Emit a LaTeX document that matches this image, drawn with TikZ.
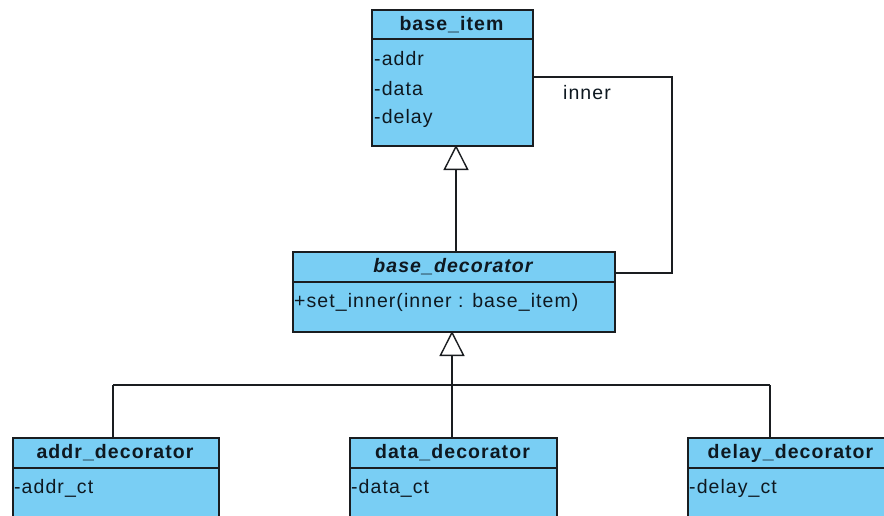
\documentclass[tikz,border=0pt]{standalone}
\usepackage{fontspec}
\setmainfont{Liberation Sans}[LetterSpace=5.5]
\usetikzlibrary{arrows.meta}
\definecolor{clsfill}{HTML}{79CEF4}
\definecolor{clsline}{HTML}{1A1D20}
\definecolor{txt}{HTML}{0E1820}
\tikzset{
  cls/.style={draw=clsline, fill=clsfill, line width=1.6pt, inner sep=0pt, anchor=north west},
  sep/.style={draw=clsline, line width=1.6pt},
  hdr/.style={font=\fontsize{19.5}{21}\selectfont\bfseries, text=txt, inner sep=0pt},
  hdri/.style={font=\fontsize{19.5}{21}\selectfont\bfseries\itshape, text=txt, inner sep=0pt},
  attr/.style={font=\fontsize{19.5}{21}\selectfont, text=txt, inner sep=0pt, anchor=west},
  conn/.style={draw=clsline, line width=1.4pt},
  gen/.style={conn, -{Triangle[open, width=25pt, length=25pt, line width=1.4pt, fill=white]}},
}
\begin{document}
\begin{tikzpicture}[x=1pt, y=-1pt]
\clip (0,0) rectangle (884,515);
\fill[white] (0,0) rectangle (884,515);
% base_item
\node[cls, minimum width=161pt, minimum height=136pt] (bi) at (371,9) {};
\draw[sep] (371,39) -- (532,39);
\node[hdr] (bit) at (451.5,24.5) {base\_item};
\node[attr] (bia1) at (374,59) {-addr};
\node[attr] (bia2) at (374,89) {-data};
\node[attr] (bia3) at (374,118) {-delay};
% base_decorator
\node[cls, minimum width=322pt, minimum height=80pt] (bd) at (292,251) {};
\draw[sep] (292,282) -- (614,282);
\node[hdri] (bdt) at (453,267) {base\_decorator};
\node[attr] (bdm) at (294,302) {+set\_inner(inner : base\_item)};
% bottom classes
\node[cls, minimum width=206pt, minimum height=110pt] (ad) at (12,437) {};
\draw[sep] (12,468) -- (218,468);
\node[hdr] (adt) at (115,453) {addr\_decorator};
\node[attr] (ada) at (14,488) {-addr\_ct};
\node[cls, minimum width=207pt, minimum height=110pt] (dd) at (349,437) {};
\draw[sep] (349,468) -- (556,468);
\node[hdr] (ddt) at (452.5,453) {data\_decorator};
\node[attr] (dda) at (351,488) {-data\_ct};
\node[cls, minimum width=207pt, minimum height=110pt] (yd) at (687,437) {};
\draw[sep] (687,468) -- (894,468);
\node[hdr] (ydt) at (790.5,453) {delay\_decorator};
\node[attr] (yda) at (689,488) {-delay\_ct};
% connectors
\coordinate (g1s) at (456,251);
\coordinate (g1e) at (456,145);
\draw[gen] (g1s) -- (g1e);
\coordinate (i1) at (532,77);
\coordinate (i2) at (672,77);
\coordinate (i3) at (672,273);
\coordinate (i4) at (614,273);
\draw[conn] (i1) -- (i2) -- (i3) -- (i4);
\node[attr, anchor=center] (inl) at (587,93) {inner};
\coordinate (j) at (452,385);
\coordinate (g2e) at (452,331);
\draw[gen] (j) -- (g2e);
\coordinate (ba) at (113,385);
\coordinate (bd2) at (452,385);
\coordinate (by) at (770,385);
\draw[conn] (ba) -- (by);
\draw[conn] (ba) -- (113,437);
\draw[conn] (bd2) -- (452,437);
\draw[conn] (by) -- (770,437);
\end{tikzpicture}
\end{document}
